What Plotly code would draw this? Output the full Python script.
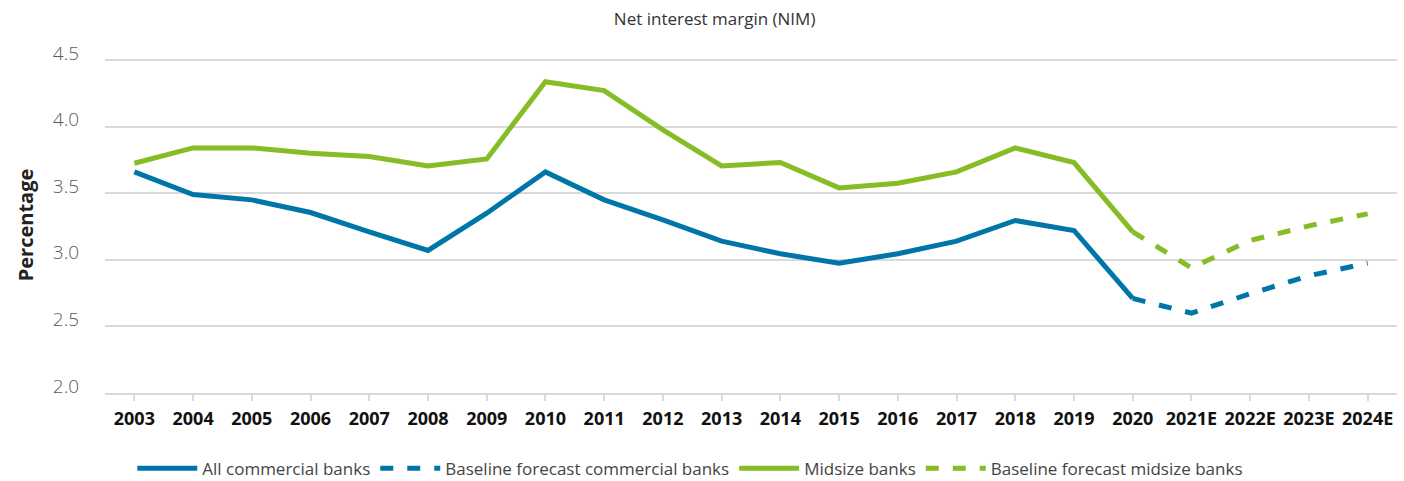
import plotly.graph_objects as go

years = ["2003", "2004", "2005", "2006", "2007", "2008", "2009", "2010", "2011", "2012", "2013",
         "2014", "2015", "2016", "2017", "2018", "2019", "2020", "2021E", "2022E", "2023E", "2024E"]

all_banks = [3.66, 3.49, 3.45, 3.355, 3.21, 3.07, 3.35, 3.66, 3.45, 3.30, 3.14,
             3.045, 2.975, 3.045, 3.14, 3.295, 3.22, 2.71, None, None, None, None]
all_forecast = [None] * 17 + [2.71, 2.60, 2.745, 2.88, 2.975]

midsize = [3.725, 3.84, 3.84, 3.80, 3.775, 3.705, 3.757, 4.337, 4.27, 3.975, 3.705,
           3.73, 3.54, 3.575, 3.66, 3.84, 3.73, 3.21, None, None, None, None]
mid_forecast = [None] * 17 + [3.21, 2.94, 3.145, 3.255, 3.345]

y_ticks = [2.0, 2.5, 3.0, 3.5, 4.0, 4.5]

BLUE = "#0076A8"
GREEN = "#86BC25"
GRID = "#d9d9d9"
DASH = "13px,14px"

fig = go.Figure()
fig.add_trace(go.Scatter(x=years, y=all_banks, mode="lines", name="All commercial banks",
                         line=dict(color=BLUE, width=5), hoverinfo="skip"))
fig.add_trace(go.Scatter(x=years, y=all_forecast, mode="lines", name="Baseline forecast commercial banks",
                         line=dict(color=BLUE, width=5, dash=DASH), hoverinfo="skip"))
fig.add_trace(go.Scatter(x=years, y=midsize, mode="lines", name="Midsize banks",
                         line=dict(color=GREEN, width=5), hoverinfo="skip"))
fig.add_trace(go.Scatter(x=years, y=mid_forecast, mode="lines", name="Baseline forecast midsize banks",
                         line=dict(color=GREEN, width=5, dash=DASH), hoverinfo="skip"))

fig.update_layout(
    width=1404, height=481,
    margin=dict(l=105, r=7, t=57, b=88, autoexpand=False),
    paper_bgcolor="white", plot_bgcolor="white",
    font=dict(family="Open Sans", color="#333333"),
    title=dict(text="Net interest margin (NIM)", x=0.509, xanchor="center", y=0.96, yanchor="middle",
               font=dict(family="Open Sans", size=17, color="#333333")),
    showlegend=True,
    legend=dict(orientation="h", x=0.453, xanchor="center", y=-0.225, yanchor="middle",
                font=dict(family="Open Sans", size=17, color="#444444"),
                itemwidth=60),
    xaxis=dict(type="category", range=[-0.5, 21.5], showgrid=False, automargin=False,
               showline=True, linecolor=GRID, linewidth=2,
               ticks="outside", ticklen=6, tickcolor=GRID, tickwidth=2,
               ticklabelstandoff=2,
               tickfont=dict(family="Open Sans", size=18, color="#111111", weight="bold")),
    yaxis=dict(range=[2.0, 4.5225], tickvals=y_ticks, automargin=False,
               tickformat=".1f", showgrid=True, gridcolor=GRID, gridwidth=2,
               zeroline=False, showline=False, ticks="",
               ticklabelposition="outside", ticklabelshift=-7, ticklabelstandoff=25,
               tickfont=dict(family="Open Sans", size=19, color="#5a5a5a", weight=300),
               title=dict(text="Percentage", standoff=13,
                          font=dict(family="Open Sans", size=20, color="#222222", weight="bold"))),
)

fig.write_html("out.html", post_script="document.body.style.margin='0';",
               config={"displayModeBar": False})
